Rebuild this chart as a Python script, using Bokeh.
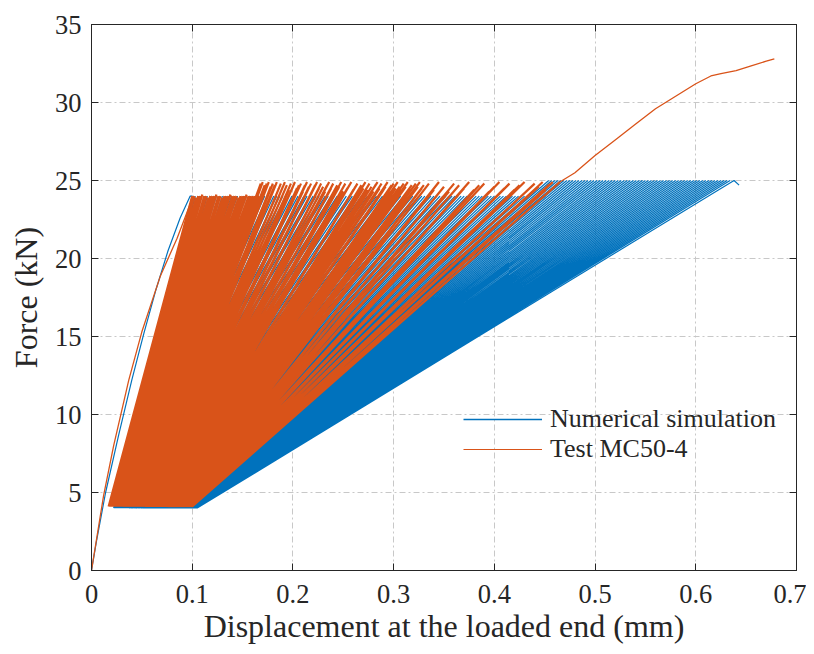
from bokeh.plotting import figure
from bokeh.models import LinearAxis, FixedTicker, Legend, LegendItem, Range1d
from bokeh.embed import file_html
from bokeh.resources import INLINE

# ---------------- data ----------------
x_ticks = [0, 0.1, 0.2, 0.3, 0.4, 0.5, 0.6, 0.7]
x_tick_labels = ["0", "0.1", "0.2", "0.3", "0.4", "0.5", "0.6", "0.7"]
y_ticks = [0, 5, 10, 15, 20, 25, 30, 35]

# Numerical simulation: first loading branch
blue_init_x = [0.0, 0.005, 0.014, 0.027, 0.040, 0.052, 0.064, 0.076, 0.088, 0.098]
blue_init_f = [0.0, 1.9, 5.0, 8.7, 12.2, 15.2, 18.0, 20.5, 22.6, 24.0]
# cycle peaks (displacement, force) and valleys (displacement) at 4 kN
blue_up_x = [
    0.100, 0.103, 0.106, 0.109, 0.112, 0.115, 0.118, 0.121, 0.124, 0.127,
    0.130, 0.133, 0.136, 0.139, 0.142, 0.145, 0.148, 0.151, 0.154, 0.157,
    0.160, 0.163, 0.166, 0.169, 0.172, 0.175, 0.178, 0.181, 0.184, 0.187,
    0.190, 0.193, 0.196, 0.199, 0.202, 0.205, 0.208, 0.211, 0.214, 0.217,
    0.220, 0.223, 0.226, 0.229, 0.232, 0.235, 0.238, 0.241, 0.244, 0.247,
    0.250, 0.253, 0.256, 0.259, 0.262, 0.265, 0.268, 0.271, 0.274, 0.277,
    0.280, 0.283, 0.286, 0.289, 0.292, 0.295, 0.298, 0.301, 0.304, 0.307,
    0.310, 0.313, 0.316, 0.319, 0.322, 0.325, 0.328, 0.331, 0.334, 0.337,
    0.340, 0.343, 0.346, 0.349, 0.352, 0.355, 0.358, 0.361, 0.364, 0.367,
    0.370, 0.373, 0.376, 0.379, 0.382, 0.385, 0.388, 0.391, 0.394, 0.397,
    0.400, 0.403, 0.406, 0.409, 0.412, 0.415, 0.418, 0.421, 0.424, 0.427,
    0.430, 0.433, 0.436, 0.439, 0.442, 0.445, 0.448, 0.451, 0.454, 0.457,
    0.460, 0.463, 0.466, 0.469, 0.472, 0.475, 0.478, 0.481, 0.484, 0.487,
    0.490, 0.493, 0.496, 0.499, 0.502, 0.505, 0.508, 0.511, 0.514, 0.517,
    0.520, 0.523, 0.526, 0.529, 0.532, 0.535, 0.538, 0.541, 0.544, 0.547,
    0.550, 0.553, 0.556, 0.559, 0.562, 0.565, 0.568, 0.571, 0.574, 0.577,
    0.580, 0.583, 0.586, 0.589, 0.592, 0.595, 0.598, 0.601, 0.604, 0.607,
    0.610, 0.613, 0.616, 0.619, 0.622, 0.625, 0.628, 0.631, 0.634]
blue_up_f = [
    24, 24, 24, 24, 24, 24, 24, 24, 24, 24,
    24, 24, 24, 24, 24, 24, 24, 24, 24, 24,
    24, 24, 24, 24, 24, 24, 24, 24, 24, 24,
    24, 24, 24, 24, 24, 24, 24, 24, 24, 24,
    24, 24, 24, 24, 24, 24, 24, 24, 24, 24,
    24, 24, 24, 24, 24, 24, 24, 24, 24, 24,
    24, 24, 24, 24, 24, 24, 24, 24, 24, 24,
    24, 24, 24, 24, 24, 24, 24, 24, 24, 24,
    24, 24, 24, 24, 24, 24, 24, 24, 24, 24,
    24, 24, 24, 24, 24, 24, 24, 24, 24, 24,
    24, 24, 24, 24, 24, 24, 24, 24, 24, 24,
    24, 24, 24, 24, 24, 24, 24, 24, 25, 25,
    25, 25, 25, 25, 25, 25, 25, 25, 25, 25,
    25, 25, 25, 25, 25, 25, 25, 25, 25, 25,
    25, 25, 25, 25, 25, 25, 25, 25, 25, 25,
    25, 25, 25, 25, 25, 25, 25, 25, 25, 25,
    25, 25, 25, 25, 25, 25, 25, 25, 25, 25,
    25, 25, 25, 25, 25, 25, 25, 25, 25]
blue_low_x = [
    0.0220, 0.0225, 0.0229, 0.0234, 0.0239, 0.0243, 0.0248, 0.0253, 0.0257, 0.0262,
    0.0267, 0.0271, 0.0276, 0.0281, 0.0285, 0.0290, 0.0295, 0.0299, 0.0304, 0.0309,
    0.0313, 0.0318, 0.0323, 0.0327, 0.0332, 0.0337, 0.0341, 0.0346, 0.0351, 0.0355,
    0.0360, 0.0364, 0.0369, 0.0374, 0.0378, 0.0383, 0.0388, 0.0392, 0.0397, 0.0402,
    0.0406, 0.0411, 0.0416, 0.0420, 0.0425, 0.0430, 0.0434, 0.0439, 0.0444, 0.0448,
    0.0453, 0.0458, 0.0462, 0.0467, 0.0472, 0.0476, 0.0481, 0.0486, 0.0490, 0.0495,
    0.0500, 0.0504, 0.0509, 0.0514, 0.0518, 0.0523, 0.0528, 0.0532, 0.0537, 0.0542,
    0.0546, 0.0551, 0.0556, 0.0560, 0.0565, 0.0570, 0.0574, 0.0579, 0.0584, 0.0588,
    0.0593, 0.0597, 0.0602, 0.0607, 0.0611, 0.0616, 0.0621, 0.0625, 0.0630, 0.0635,
    0.0639, 0.0644, 0.0649, 0.0653, 0.0658, 0.0663, 0.0667, 0.0672, 0.0677, 0.0681,
    0.0686, 0.0691, 0.0695, 0.0700, 0.0705, 0.0709, 0.0714, 0.0719, 0.0723, 0.0728,
    0.0733, 0.0737, 0.0742, 0.0747, 0.0751, 0.0756, 0.0761, 0.0765, 0.0770, 0.0774,
    0.0779, 0.0784, 0.0788, 0.0793, 0.0798, 0.0802, 0.0807, 0.0812, 0.0816, 0.0821,
    0.0826, 0.0830, 0.0835, 0.0840, 0.0844, 0.0849, 0.0854, 0.0858, 0.0863, 0.0868,
    0.0872, 0.0877, 0.0882, 0.0886, 0.0891, 0.0896, 0.0900, 0.0905, 0.0910, 0.0914,
    0.0919, 0.0924, 0.0928, 0.0933, 0.0938, 0.0942, 0.0947, 0.0952, 0.0956, 0.0961,
    0.0966, 0.0970, 0.0975, 0.0979, 0.0984, 0.0989, 0.0993, 0.0998, 0.1003, 0.1007,
    0.1012, 0.1017, 0.1021, 0.1026, 0.1031, 0.1035, 0.1040, 0.1045, 0.1050]
blue_low_f = 4.0
blue_end_x = [0.620, 0.638, 0.643]
blue_end_f = [24.3, 25.0, 24.7]

# Test MC50-4: first loading branch
orange_init_x = [0.0, 0.005, 0.012, 0.022, 0.037, 0.050, 0.0685, 0.085, 0.098]
orange_init_f = [0.0, 2.0, 4.8, 8.0, 12.2, 15.3, 18.9, 21.3, 23.5]
orange_up_x = [
    0.100, 0.102, 0.104, 0.106, 0.108, 0.110, 0.112, 0.114, 0.116, 0.118,
    0.120, 0.122, 0.124, 0.126, 0.128, 0.130, 0.132, 0.134, 0.136, 0.138,
    0.140, 0.142, 0.144, 0.146, 0.148, 0.150, 0.152, 0.154, 0.156, 0.158,
    0.160, 0.162, 0.164, 0.165, 0.166,
    0.168, 0.170, 0.172, 0.174, 0.176, 0.178, 0.180, 0.182, 0.184, 0.186,
    0.188, 0.190, 0.192, 0.194, 0.196, 0.198, 0.200, 0.202, 0.204, 0.206,
    0.208, 0.210, 0.212, 0.214, 0.216, 0.218, 0.220, 0.222, 0.224, 0.226,
    0.228, 0.230, 0.232, 0.234, 0.236, 0.238, 0.240, 0.242, 0.244, 0.246,
    0.248, 0.250, 0.252, 0.254, 0.256, 0.258, 0.260, 0.262, 0.264, 0.266,
    0.268, 0.270, 0.272, 0.274, 0.276, 0.278, 0.280, 0.282, 0.284, 0.286,
    0.288, 0.290, 0.292, 0.294, 0.296, 0.298, 0.300, 0.302, 0.304, 0.306,
    0.308, 0.310, 0.312, 0.314, 0.316, 0.318, 0.320, 0.322, 0.324, 0.326,
    0.328, 0.330,
    0.335, 0.340, 0.345, 0.350, 0.355, 0.360, 0.365, 0.370, 0.375, 0.380,
    0.385, 0.390, 0.395, 0.400, 0.405, 0.410, 0.415, 0.420, 0.425, 0.430,
    0.435, 0.440, 0.444, 0.448, 0.451, 0.454, 0.456, 0.458]
orange_up_f = [
    24.0, 24.0, 23.9, 24.0, 24.0, 24.1, 24.0, 24.0, 23.9, 24.0,
    24.0, 24.0, 24.1, 24.0, 24.0, 23.9, 24.0, 24.0, 24.0, 24.1,
    24.0, 24.0, 24.0, 23.9, 24.0, 24.0, 24.0, 24.1, 24.0, 24.0,
    24.0, 24.0, 24.0, 24.0, 24.0,
    24.8, 24.9, 24.7, 24.8, 24.9, 24.6, 24.8, 24.7, 24.9, 24.5,
    24.8, 24.6, 24.9, 24.7, 24.4, 24.8, 24.6, 24.9, 24.5, 24.7,
    24.8, 24.3, 24.7, 24.9, 24.6, 24.8, 24.4, 24.7, 24.9, 24.5,
    24.8, 24.6, 24.3, 24.7, 24.9, 24.5, 24.8, 24.4, 24.7, 24.6,
    24.9, 24.3, 24.8, 24.5, 24.7, 24.9, 24.4, 24.6, 24.8, 24.3,
    24.7, 24.5, 24.9, 24.4, 24.8, 24.6, 24.3, 24.7, 24.9, 24.5,
    24.8, 24.4, 24.6, 24.9, 24.3, 24.7, 24.8, 24.5, 24.9, 24.6,
    24.4, 24.8, 24.6, 24.9, 24.5, 24.7, 24.3, 24.8, 24.6, 24.9,
    24.5, 24.7, 24.8, 24.4, 24.9, 24.6, 24.3, 24.8, 24.7, 24.5,
    24.9, 24.4, 24.7, 24.8, 24.3, 24.6, 24.9, 24.5, 24.8, 24.4,
    24.7, 24.9, 24.5, 24.8, 24.6, 24.9, 24.4, 24.7, 24.8, 24.9]
orange_low_x = [
    0.017, 0.018, 0.019, 0.020, 0.021, 0.022, 0.023, 0.024, 0.025, 0.026,
    0.027, 0.028, 0.029, 0.030, 0.031, 0.032, 0.033, 0.034, 0.035, 0.036,
    0.037, 0.038, 0.039, 0.040, 0.041, 0.042, 0.043, 0.044, 0.045, 0.046,
    0.047, 0.048, 0.049, 0.050, 0.051,
    0.0510, 0.0523, 0.0511, 0.0532, 0.0520, 0.0541, 0.0529, 0.0550, 0.0538, 0.0559,
    0.0547, 0.0568, 0.0556, 0.0577, 0.0565, 0.0586, 0.0574, 0.0595, 0.0583, 0.0604,
    0.0592, 0.0613, 0.0601, 0.0622, 0.0610, 0.0631, 0.0619, 0.0640, 0.0628, 0.0649,
    0.0637, 0.0658, 0.0646, 0.0667, 0.0655, 0.0676, 0.0664, 0.0685, 0.0673, 0.0694,
    0.0682, 0.0703, 0.0691, 0.0712, 0.0700, 0.0721, 0.0709, 0.0730, 0.0718, 0.0739,
    0.0727, 0.0748, 0.0736, 0.0757, 0.0745, 0.0766, 0.0754, 0.0775, 0.0763, 0.0784,
    0.0772, 0.0793, 0.0781, 0.0802, 0.0790, 0.0811, 0.0799, 0.0820, 0.0808, 0.0829,
    0.0817, 0.0838, 0.0826, 0.0847, 0.0835, 0.0856, 0.0844, 0.0865, 0.0853, 0.0874,
    0.0862, 0.0883, 0.0871, 0.0892, 0.0880, 0.0901, 0.0889, 0.0910, 0.0898, 0.0919,
    0.0907, 0.0928, 0.0916, 0.0937, 0.0925, 0.0946, 0.0934, 0.0955, 0.0943, 0.0964,
    0.0952, 0.0973, 0.0961, 0.0982, 0.0970, 0.0991, 0.0979, 0.0995, 0.0988, 0.1000]
orange_low_f = 4.1
orange_end_x = [0.465, 0.480, 0.500, 0.520, 0.540, 0.560, 0.580, 0.600, 0.615,
                0.625, 0.640, 0.655, 0.670, 0.678]
orange_end_f = [24.9, 25.5, 26.6, 27.6, 28.6, 29.6, 30.4, 31.2, 31.7,
                31.85, 32.05, 32.35, 32.65, 32.8]

BLUE = "#0072BD"
ORANGE = "#D95319"
FONT = "Liberation Serif"
INK = "#262626"

# ---------------- build the paths ----------------
def cycles(up_x, up_f, low_x, low_f):
    xs, fs = [], []
    for ux, uf, lx in zip(up_x, up_f, low_x):
        xs += [ux, lx]
        fs += [uf, low_f]
    return xs, fs

bcx, bcf = cycles(blue_up_x, blue_up_f, blue_low_x, blue_low_f)
bx = list(blue_init_x) + bcx + list(blue_end_x)
bf = list(blue_init_f) + bcf + list(blue_end_f)

ocx, ocf = cycles(orange_up_x, orange_up_f, orange_low_x, orange_low_f)
# cyclic part (dense), joined to the last point of the first loading and
# the first point of the final branch
ox_cyc = [orange_init_x[-1]] + ocx + [orange_end_x[0]]
of_cyc = [orange_init_f[-1]] + ocf + [orange_end_f[0]]

p = figure(width=806, height=646, x_range=Range1d(0, 0.7), y_range=Range1d(0, 35),
           output_backend="svg", toolbar_location=None,
           min_border_left=91, min_border_right=10, min_border_top=24, min_border_bottom=75)
p.background_fill_color = "white"
p.border_fill_color = "white"
p.outline_line_color = INK
p.outline_line_width = 1

rb = p.line(bx, bf, line_color=BLUE, line_width=1.2)
ro_c = p.line(ox_cyc, of_cyc, line_color=ORANGE, line_width=2.2)
ro_i = p.line(orange_init_x, orange_init_f, line_color=ORANGE, line_width=1.3)
ro_e = p.line(orange_end_x, orange_end_f, line_color=ORANGE, line_width=1.3)
# legend key samples (placed outside the visible ranges)
lb = p.line([-1.0, -0.9], [-10, -10], line_color=BLUE, line_width=1.6)
lo = p.line([-1.0, -0.9], [-10, -10], line_color=ORANGE, line_width=1.2)

# axes
p.xaxis.ticker = FixedTicker(ticks=x_ticks)
p.xaxis.major_label_overrides = {t: s for t, s in zip(x_ticks, x_tick_labels)}
p.yaxis.ticker = FixedTicker(ticks=y_ticks)
for ax in (p.xaxis[0], p.yaxis[0]):
    ax.axis_line_color = INK
    ax.major_tick_line_color = INK
    ax.major_tick_in = 7
    ax.major_tick_out = 0
    ax.minor_tick_line_color = None
    ax.major_label_text_font = FONT
    ax.major_label_text_font_size = "26.5px"
    ax.major_label_text_color = INK
    ax.axis_label_text_font = FONT
    ax.axis_label_text_font_size = "32px"
    ax.axis_label_text_font_style = "normal"
    ax.axis_label_text_color = INK
p.xaxis.major_label_standoff = 14
p.xaxis.axis_label_standoff = 2
p.yaxis.major_label_standoff = 10
p.yaxis.axis_label_standoff = 8
p.xaxis.axis_label = "Displacement at the loaded end (mm)"
p.yaxis.axis_label = "Force (kN)"

# box ticks on top and right, without labels
top = LinearAxis(ticker=FixedTicker(ticks=x_ticks), major_label_text_font_size="1px",
                 major_label_text_color=None,
                 major_tick_in=7, major_tick_out=0, minor_tick_line_color=None,
                 axis_line_color=INK, major_tick_line_color=INK, major_label_standoff=0)
right = LinearAxis(ticker=FixedTicker(ticks=y_ticks), major_label_text_font_size="1px",
                   major_label_text_color=None,
                   major_tick_in=7, major_tick_out=0, minor_tick_line_color=None,
                   axis_line_color=INK, major_tick_line_color=INK, major_label_standoff=0)
p.add_layout(top, "above")
p.add_layout(right, "right")

# grid
for g in (p.xgrid[0], p.ygrid[0]):
    g.grid_line_color = "#c8c8c8"
    g.grid_line_dash = "6 3 2 3"
    g.grid_line_width = 1

legend = Legend(items=[LegendItem(label="Numerical simulation", renderers=[lb]),
                       LegendItem(label="Test MC50-4", renderers=[lo])],
                location=(367, 101))
legend.label_text_font = FONT
legend.label_text_font_size = "26px"
legend.label_text_color = INK
legend.glyph_width = 79
legend.glyph_height = 20
legend.label_height = 20
legend.label_standoff = 8
legend.spacing = -4
legend.padding = 5
legend.margin = 0
legend.background_fill_alpha = 0
legend.border_line_alpha = 0
p.add_layout(legend)

open("out.html", "w").write(file_html(p, INLINE))
